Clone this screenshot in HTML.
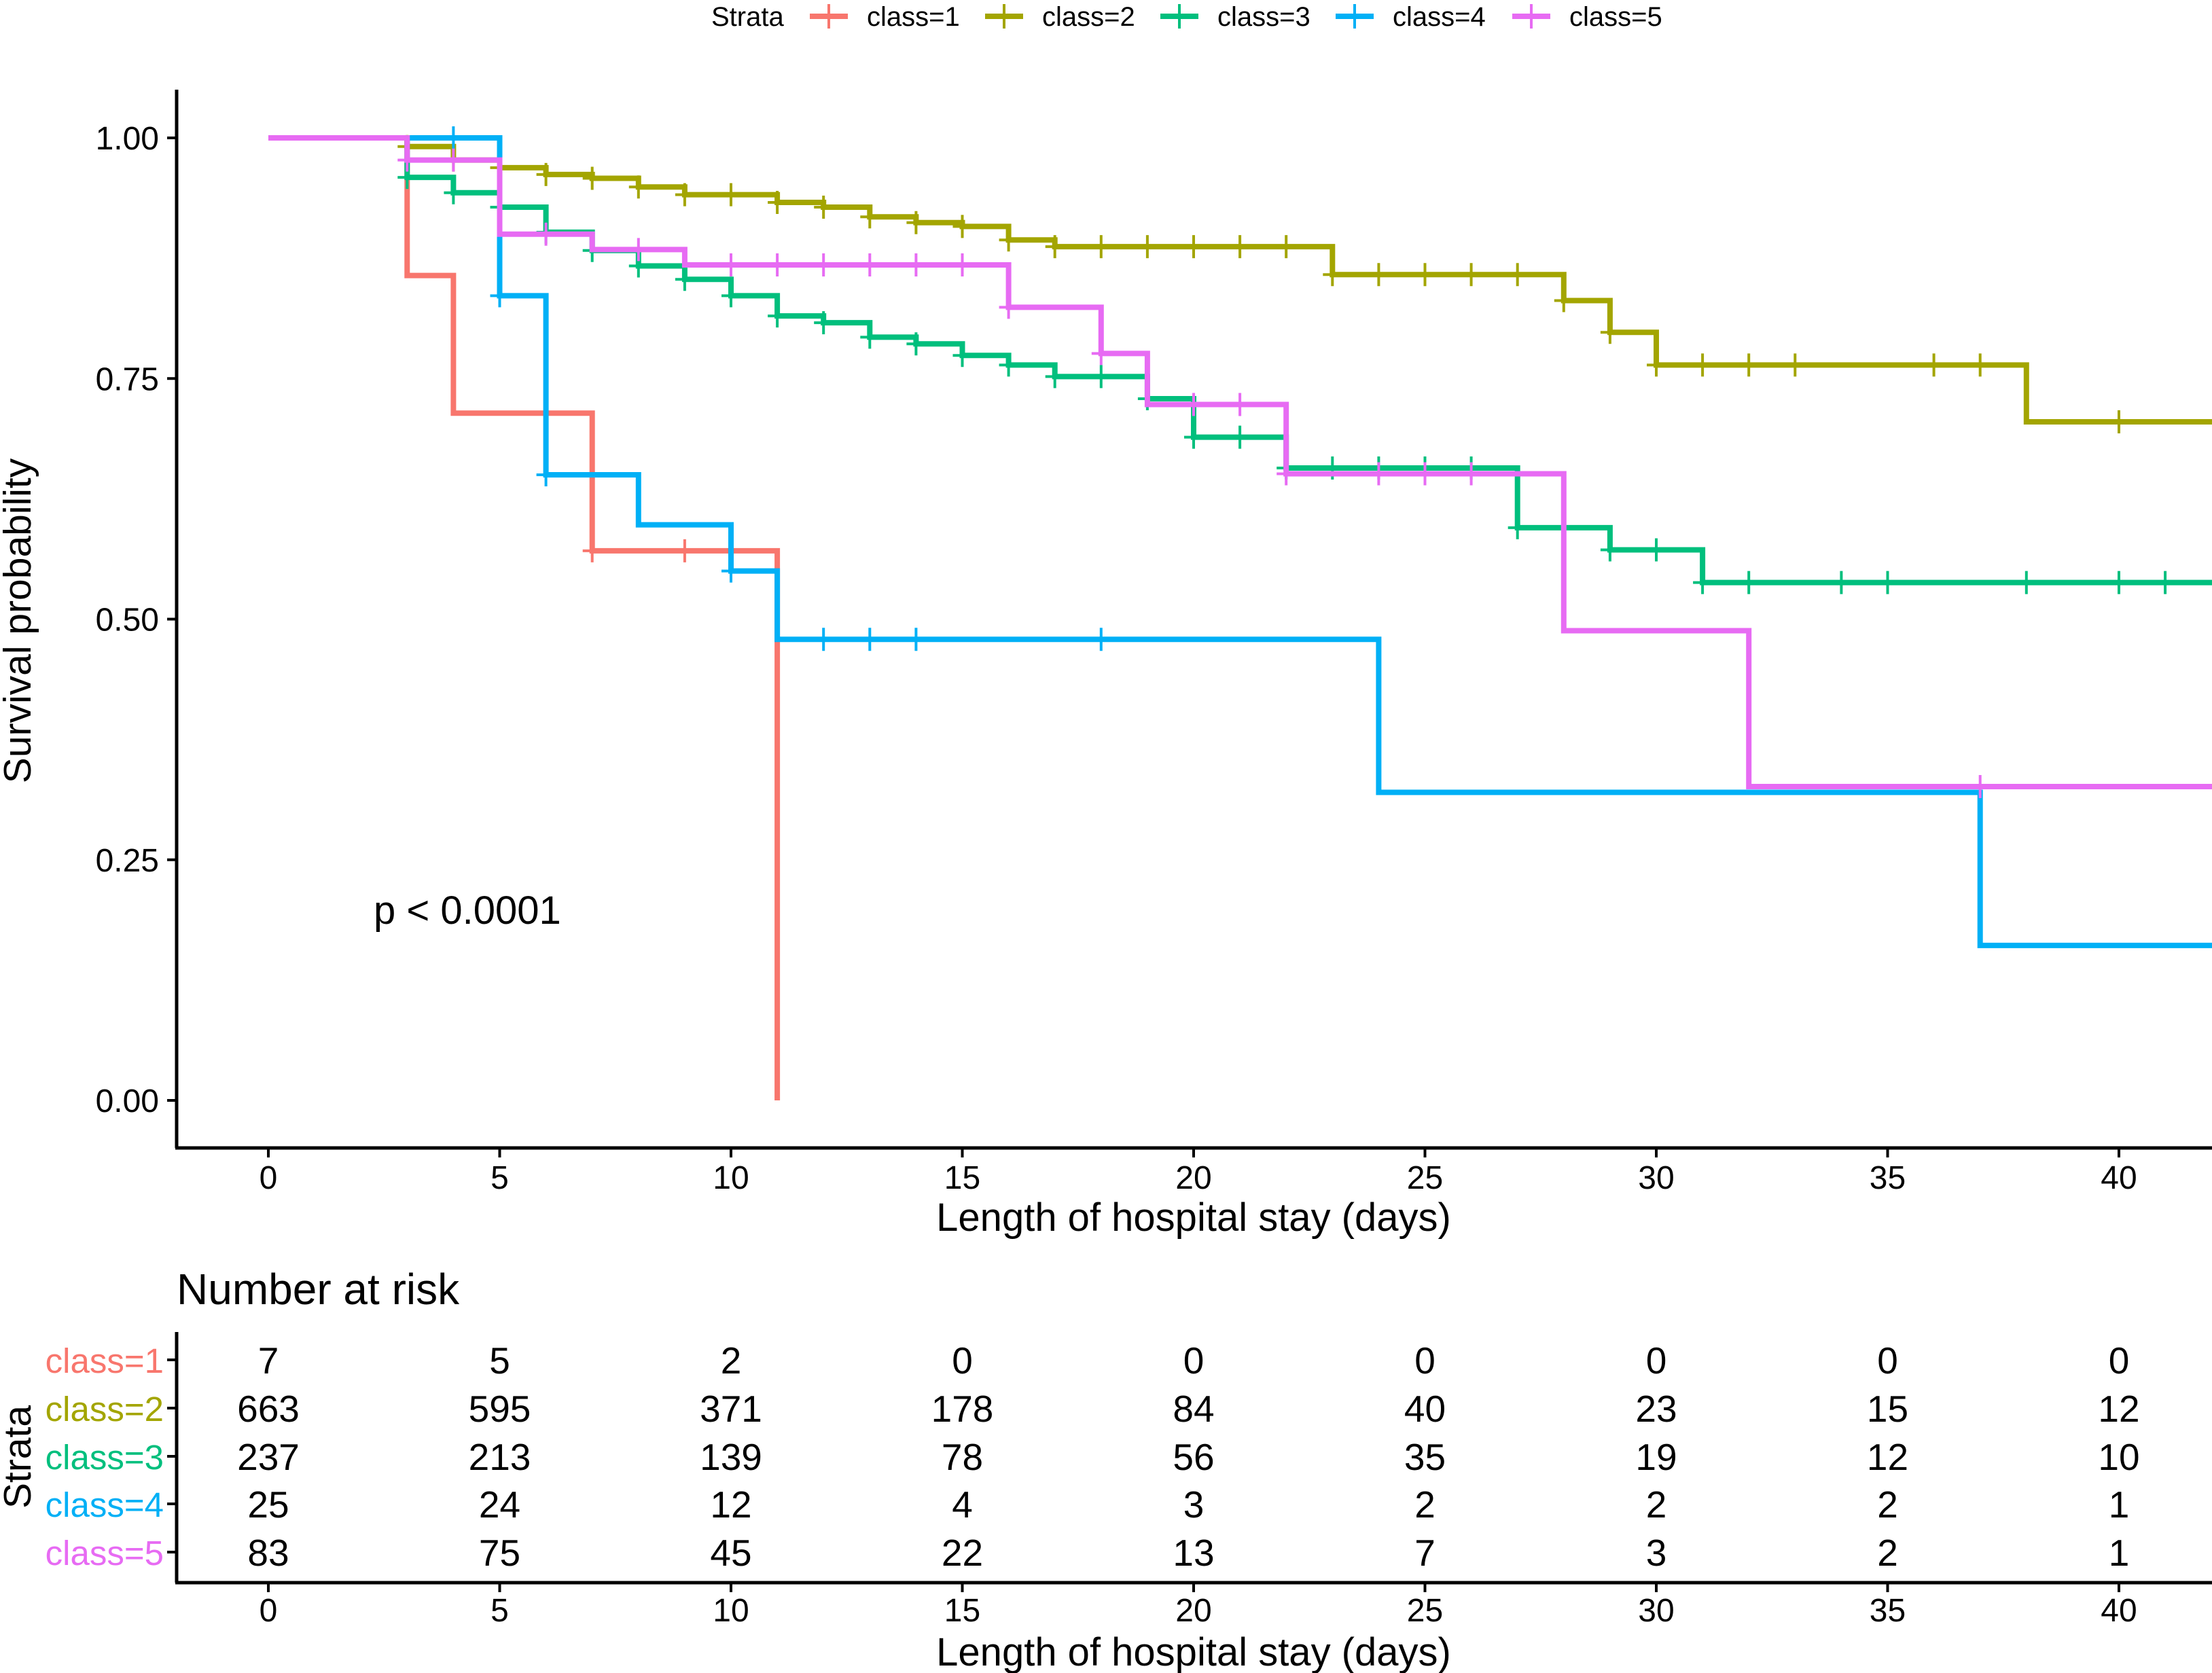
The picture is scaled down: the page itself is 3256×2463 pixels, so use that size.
<!DOCTYPE html>
<html><head><meta charset="utf-8"><style>
html,body{margin:0;padding:0;background:#fff;}
svg{display:block;font-family:"Liberation Sans",Arial,sans-serif;}
</style></head><body>
<svg id="chart" width="3256" height="2463" viewBox="0 0 3256 2463" xmlns="http://www.w3.org/2000/svg">
<g id="legend"></g>
<g id="plot"></g>
<g id="risk"></g>
</svg>
<script>
const classNames = ["class=1","class=2","class=3","class=4","class=5"];
const colors = ["#F8766D","#A3A500","#00BF7D","#00B0F6","#E76BF3"];
const xTicks = [0,5,10,15,20,25,30,35,40];
const yTicks = [0,0.25,0.5,0.75,1];
const yTickLabels = ["0.00","0.25","0.50","0.75","1.00"];
const t1 = [0,3,4,7,11];
const s1 = [1,0.857,0.714,0.571,0];
const c1 = [7,9];
const t2 = [0,3,4,5,6,7,8,9,11,12,13,14,15,16,17,23,28,29,30,38];
const s2 = [1,0.991,0.977,0.969,0.962,0.958,0.949,0.941,0.933,0.928,0.918,0.912,0.908,0.894,0.887,0.858,0.831,0.798,0.764,0.705];
const c2 = [3,4,5,6,7,8,9,10,11,12,13,14,15,16,17,18,19,20,21,22,23,24,25,26,27,28,29,30,31,32,33,36,37,40];
const t3 = [0,3,4,5,6,7,8,9,10,11,12,13,14,15,16,17,19,20,22,27,29,31];
const s3 = [1,0.959,0.943,0.928,0.902,0.883,0.867,0.853,0.836,0.815,0.808,0.793,0.786,0.774,0.764,0.752,0.729,0.689,0.657,0.595,0.572,0.538];
const c3 = [3,4,5,6,7,8,9,10,11,12,13,14,15,16,17,18,19,20,21,22,23,24,25,26,27,28,29,30,31,32,34,35,38,40,41];
const t4 = [0,5,6,8,10,11,24,37];
const s4 = [1,0.836,0.650,0.598,0.550,0.479,0.320,0.161];
const c4 = [4,5,6,10,12,13,14,18];
const t5 = [0,3,5,7,9,16,18,19,22,28,32];
const s5 = [1,0.977,0.900,0.884,0.868,0.824,0.776,0.723,0.651,0.488,0.326];
const c5 = [3,4,6,8,10,11,12,13,14,15,16,18,20,21,22,24,25,26,37];
const riskTimes = [0,5,10,15,20,25,30,35,40];
const risk1 = [7,5,2,0,0,0,0,0,0];
const risk2 = [663,595,371,178,84,40,23,15,12];
const risk3 = [237,213,139,78,56,35,19,12,10];
const risk4 = [25,24,12,4,3,2,2,2,1];
const risk5 = [83,75,45,22,13,7,3,2,1];

const NS="http://www.w3.org/2000/svg";
const X0=395, PXD=68.1, XEND=3256, TMAX=(XEND-X0)/PXD;
const Y0=1620, PXU=1417;
const xs = t => X0 + t*PXD;
const ys = v => Y0 - v*PXU;
function el(tag, attrs, parent, text){
  const e=document.createElementNS(NS,tag);
  for(const k in attrs) e.setAttribute(k,attrs[k]);
  if(text!==undefined) e.textContent=text;
  parent.appendChild(e); return e;
}
const plot=document.getElementById('plot');
const risk=document.getElementById('risk');
const legend=document.getElementById('legend');

let a=el('line',{x1:260,y1:132,x2:260,y2:1690,stroke:'#000','stroke-width':5},plot);


a=el('line',{x1:258,y1:1690,x2:3256,y2:1690,stroke:'#000','stroke-width':5},plot);


yTicks.forEach((v,i)=>{
  const tk=el('line',{x1:246,y1:ys(v),x2:260,y2:ys(v),stroke:'#000','stroke-width':4},plot);
  
  
  const tl=el('text',{x:234,y:ys(v)+17,'font-size':48,'text-anchor':'end',fill:'#000'},plot,yTickLabels[i]);
  
  
});
xTicks.forEach(t=>{
  const tk=el('line',{x1:xs(t),y1:1690,x2:xs(t),y2:1704,stroke:'#000','stroke-width':4},plot);
  
  
  const tl=el('text',{x:xs(t),y:1750,'font-size':48,'text-anchor':'middle',fill:'#000'},plot,String(t));
  
  
});
a=el('text',{x:1757,y:1812,'font-size':58,'text-anchor':'middle'},plot,'Length of hospital stay (days)');


a=el('text',{x:0,y:0,'font-size':57,'text-anchor':'middle',transform:'translate(45,914) rotate(-90)'},plot,'Survival probability');


a=el('text',{x:550,y:1360,'font-size':58},plot,'p < 0.0001');



const times=[t1,t2,t3,t4,t5], survs=[s1,s2,s3,s4,s5], cens=[c1,c2,c3,c4,c5];
function survAt(T,S,t){let v=S[0];for(let i=0;i<T.length;i++){if(T[i]<=t)v=S[i];}return v;}
[0,1,2,3,4].forEach(k=>{
  const T=times[k],S=survs[k];
  let d='M'+xs(T[0])+','+ys(S[0]);
  for(let i=1;i<T.length;i++){d+=' H'+xs(T[i])+' V'+ys(S[i]);}
  const last=S[S.length-1];
  if(last>0) d+=' H'+xs(TMAX);
  const p=el('path',{d:d,fill:'none',stroke:colors[k],'stroke-width':8,'stroke-linejoin':'miter'},plot);
  
  
  cens[k].forEach(t=>{
    const v=survAt(T,S,t);
    const m=el('path',{d:'M'+(xs(t)-14)+','+ys(v)+' H'+(xs(t)+14)+' M'+xs(t)+','+(ys(v)-17)+' V'+(ys(v)+17),stroke:colors[k],'stroke-width':4,fill:'none'},plot);
    
    
  });
});

a=el('text',{x:1047,y:38,'font-size':40},legend,'Strata');


const legX=[1192,1450,1708,1966,2226];
classNames.forEach((n,k)=>{
  const g=el('g',{},legend);
  
  
  el('line',{x1:legX[k],y1:24,x2:legX[k]+56,y2:24,stroke:colors[k],'stroke-width':8},g);
  el('line',{x1:legX[k]+28,y1:6,x2:legX[k]+28,y2:42,stroke:colors[k],'stroke-width':4},g);
  el('text',{x:legX[k]+84,y:38,'font-size':40},g,n);
});

a=el('text',{x:260,y:1920,'font-size':64},risk,'Number at risk');


a=el('line',{x1:260,y1:1961,x2:260,y2:2330,stroke:'#000','stroke-width':5},risk);


a=el('line',{x1:258,y1:2330,x2:3256,y2:2330,stroke:'#000','stroke-width':5},risk);


const rowY=[2002,2073,2144,2214,2285];
const risks=[risk1,risk2,risk3,risk4,risk5];
classNames.forEach((n,k)=>{
  const tk=el('line',{x1:246,y1:rowY[k],x2:260,y2:rowY[k],stroke:'#000','stroke-width':4},risk);
  
  
  const lb=el('text',{x:241,y:rowY[k]+19,'font-size':51,'text-anchor':'end',fill:colors[k]},risk,n);
  
  
  risks[k].forEach((v,i)=>{
    const c=el('text',{x:xs(riskTimes[i]),y:rowY[k]+20,'font-size':55,'text-anchor':'middle'},risk,String(v));
    
    
  });
});
xTicks.forEach(t=>{
  const tk=el('line',{x1:xs(t),y1:2330,x2:xs(t),y2:2344,stroke:'#000','stroke-width':4},risk);
  
  
  const tl=el('text',{x:xs(t),y:2387,'font-size':48,'text-anchor':'middle'},risk,String(t));
  
  
});
a=el('text',{x:1757,y:2452,'font-size':58,'text-anchor':'middle'},risk,'Length of hospital stay (days)');


a=el('text',{x:0,y:0,'font-size':57,'text-anchor':'middle',transform:'translate(45,2145) rotate(-90)'},risk,'Strata');


</script>
</body></html>
